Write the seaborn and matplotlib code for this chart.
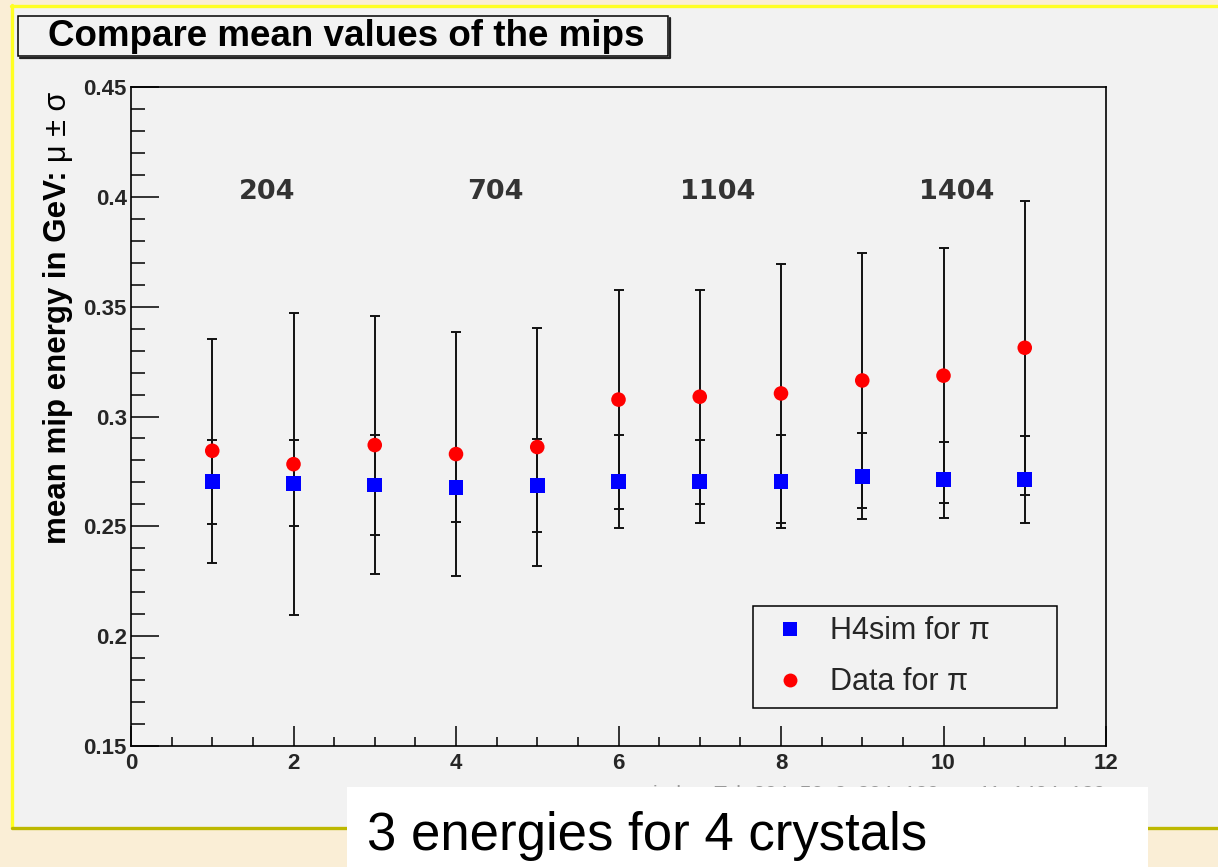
import numpy as np
import pandas as pd
import matplotlib
matplotlib.use("Agg")
import matplotlib.pyplot as plt
import seaborn as sns
from matplotlib.patches import Rectangle
from matplotlib.lines import Line2D
from matplotlib.ticker import MultipleLocator, FixedLocator

# ---------------- data ----------------
crystal_index = [1, 2, 3, 4, 5, 6, 7, 8, 9, 10, 11]
sim_mean = [0.2703, 0.2696, 0.2688, 0.2678, 0.2686, 0.2703, 0.2703, 0.2703, 0.2728, 0.2713, 0.2713]
sim_sigma = [0.0192, 0.0196, 0.0228, 0.0160, 0.0210, 0.0211, 0.0190, 0.0211, 0.0196, 0.0173, 0.0200]
data_mean = [0.2844, 0.2783, 0.2870, 0.2829, 0.2861, 0.3077, 0.3090, 0.3105, 0.3164, 0.3186, 0.3313]
data_sigma = [0.0510, 0.0688, 0.0587, 0.0556, 0.0541, 0.0498, 0.0487, 0.0591, 0.0580, 0.0581, 0.0670]
series_names = ["H4sim for π", "Data for π"]
group_labels = ["204", "704", "1104", "1404"]
group_label_x = [1.67, 4.49, 7.22, 10.16]
group_label_y = [0.402, 0.402, 0.402, 0.402]
x_ticks = [0, 2, 4, 6, 8, 10, 12]
x_tick_labels = ["0", "2", "4", "6", "8", "10", "12"]
y_ticks = [0.15, 0.2, 0.25, 0.3, 0.35, 0.4, 0.45]
y_tick_labels = ["0.15", "0.2", "0.25", "0.3", "0.35", "0.4", "0.45"]
title_text = "Compare mean values of the mips"
ylabel_main = "mean mip energy in GeV:"
ylabel_sym = "μ ± σ"
xlabel_text = "index: Tab 204: 50, 2: 204: 120, ..., 11: 1404: 120"
footer_text = "3 energies for 4 crystals"

# ---------------- style ----------------
sns.set_theme(style="ticks")
plt.rcParams['font.family'] = ['Liberation Sans', 'DejaVu Sans']

W, H = 1218, 867
def fx(px):
    return px / W
def fy(py):
    return 1 - py / H

fig = plt.figure(figsize=(W / 100, H / 100), dpi=100)
fig.patch.set_facecolor('#faeed6')

# slide panel
fig.add_artist(Rectangle((fx(13), fy(827)), 1.0, (827 - 6) / H, transform=fig.transFigure,
                         facecolor='#f2f2f2', edgecolor='none', zorder=0))
fig.add_artist(Line2D([fx(12), fx(12)], [fy(5), fy(828)], transform=fig.transFigure,
                      color='#ffff22', lw=2.4, zorder=0.5))
fig.add_artist(Line2D([fx(11), 1.0], [fy(5.5), fy(5.5)], transform=fig.transFigure,
                      color='#ffff22', lw=2.4, zorder=0.5))
fig.add_artist(Line2D([fx(12), 1.0], [fy(827.5), fy(827.5)], transform=fig.transFigure,
                      color='#bdb800', lw=2.4, zorder=0.5))

# ---------------- axes ----------------
ax = fig.add_axes([fx(131), fy(746), 975 / W, 659 / H])
ax.set_zorder(2)
ax.set_facecolor('#f2f2f2')

df = pd.DataFrame({
    'crystal': crystal_index * 2,
    'mean': sim_mean + data_mean,
    'sigma': sim_sigma + data_sigma,
    'series': [series_names[0]] * len(crystal_index) + [series_names[1]] * len(crystal_index),
})

for name in series_names:
    sub = df[df['series'] == name]
    ax.errorbar(sub['crystal'], sub['mean'], yerr=sub['sigma'], fmt='none',
                ecolor='#111111', elinewidth=1.4, capsize=3.6, capthick=1.4, zorder=2)

palette = {series_names[0]: '#0000ff', series_names[1]: '#ff0000'}
markers = {series_names[0]: 's', series_names[1]: 'o'}
sns.scatterplot(data=df, x='crystal', y='mean', hue='series', style='series',
                palette=palette, markers=markers, s=110, edgecolor='none',
                linewidth=0, ax=ax, legend=False, zorder=3)

ax.set_xlim(0, 12)
ax.set_ylim(0.15, 0.45)
ax.xaxis.set_major_locator(FixedLocator(x_ticks))
ax.xaxis.set_minor_locator(MultipleLocator(0.5))
ax.yaxis.set_major_locator(FixedLocator(y_ticks))
ax.yaxis.set_minor_locator(MultipleLocator(0.01))
ax.set_xticklabels(x_tick_labels, fontsize=16, fontweight='bold')
ax.set_yticklabels(y_tick_labels, fontsize=16, fontweight='bold')
ax.set_xlabel('')
ax.set_ylabel('')
ax.tick_params(axis='x', which='major', direction='in', length=14.5, width=1.1, pad=5, color='black')
ax.tick_params(axis='x', which='minor', direction='in', length=6.5, width=1.1, color='black')
ax.tick_params(axis='y', which='major', direction='in', length=20, width=1.1, pad=3, color='black')
ax.tick_params(axis='y', which='minor', direction='in', length=10, width=1.1, color='black')
for sp in ax.spines.values():
    sp.set_visible(True)
    sp.set_color('black')
    sp.set_linewidth(1.2)

for lab, gx, gy in zip(group_labels, group_label_x, group_label_y):
    ax.text(gx, gy, lab, ha='center', va='center', fontsize=19.5, fontweight='bold',
            color='#333333', family=['DejaVu Sans'])

handles = [Line2D([], [], marker=markers[n], color=palette[n], linestyle='none',
                  markersize=10, markeredgewidth=0) for n in series_names]
leg = ax.legend(handles, series_names, loc='upper left',
                bbox_to_anchor=(622 / 975, 140 / 659, 304 / 975, 0.0), mode='expand',
                borderaxespad=0, fontsize=22, frameon=True, fancybox=False,
                borderpad=0.34, labelspacing=0.69, handlelength=1.74, handletextpad=0.44)
leg.get_frame().set_facecolor('#f2f2f2')
leg.get_frame().set_edgecolor('black')
leg.get_frame().set_linewidth(1.1)
leg.get_frame().set_alpha(1)

# ---------------- title box ----------------
fig.add_artist(Rectangle((fx(18), fy(56)), (668 - 18) / W, (56 - 16) / H, transform=fig.transFigure,
                         facecolor='#f2f2f2', edgecolor='black', lw=1.1, zorder=3))
fig.add_artist(Line2D([fx(20), fx(669.5), fx(669.5)], [fy(57.5), fy(57.5), fy(18)],
                      transform=fig.transFigure, color='#222222', lw=1.6, zorder=3))
fig.text(fx(48), fy(36), title_text, ha='left', va='center', fontsize=26.5, fontweight='bold',
         color='black', zorder=4)

# ---------------- y label (two parts) ----------------
renderer = fig.canvas.get_renderer()
t_sym = fig.text(fx(58), fy(92), ylabel_sym, rotation=90, ha='center', va='top', fontsize=22,
                 color='black', zorder=4)
bb = t_sym.get_window_extent(renderer)
t_main = fig.text(fx(58), (bb.y0 - 8) / fig.bbox.height, ylabel_main, rotation=90, ha='center',
                  va='top', fontsize=22.5, fontweight='bold', color='black', zorder=4)

# ---------------- hidden x label + footer box ----------------
fig.text(fx(1105), fy(784), xlabel_text, ha='right', va='top', fontsize=15, color='#999999', zorder=3)
fig.add_artist(Rectangle((fx(347), 0), (1148 - 347) / W, (867 - 787) / H, transform=fig.transFigure,
                         facecolor='white', edgecolor='none', zorder=5))
fig.text(fx(367), fy(850), footer_text, ha='left', va='baseline', fontsize=38, color='black', zorder=6)

fig.savefig('out.png', dpi=100, facecolor=fig.get_facecolor())
